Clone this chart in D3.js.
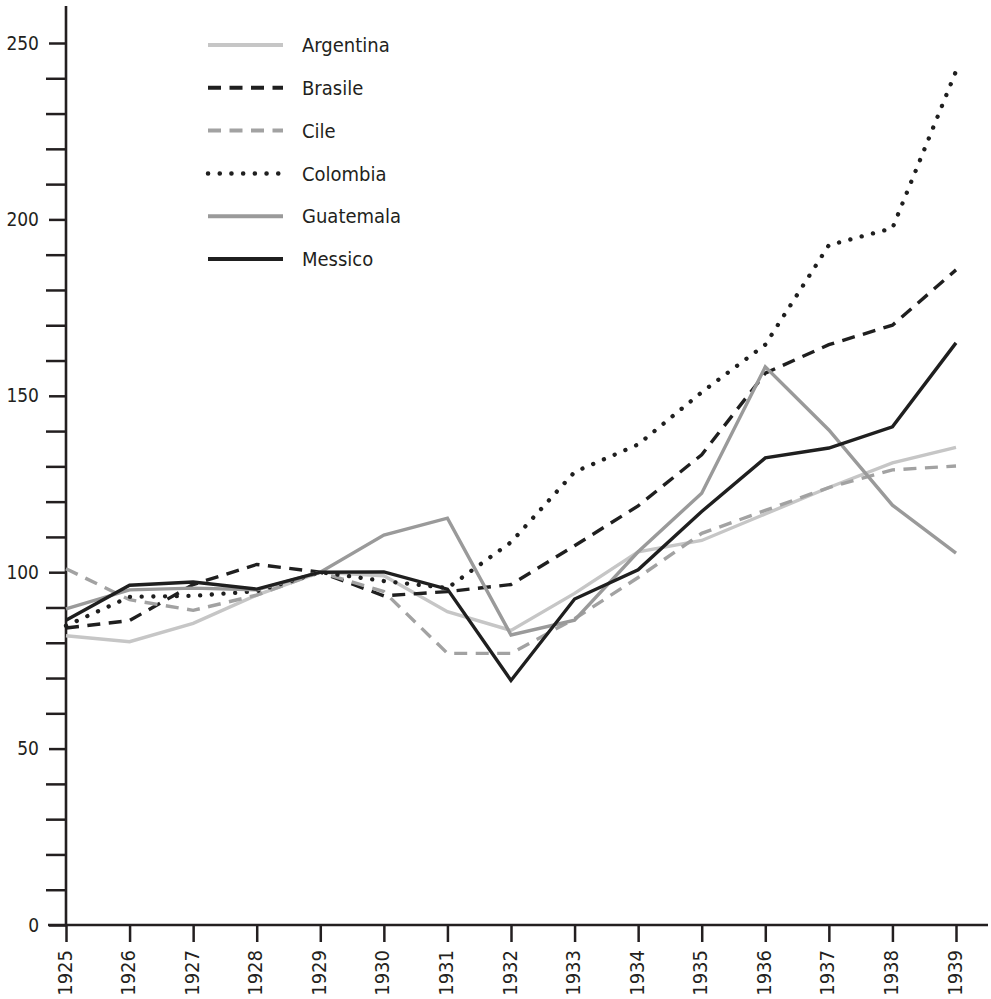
<!DOCTYPE html>
<html>
<head>
<meta charset="utf-8">
<script src="https://cdn.jsdelivr.net/npm/d3@7"></script>
<style>
  html, body { margin: 0; padding: 0; background: #fff; }
  svg text { font-family: "DejaVu Sans Condensed", "DejaVu Sans", sans-serif; font-stretch: condensed; fill: #231f20; }
</style>
</head>
<body>
<svg id="chart" width="991" height="999"></svg>
<script>
const years = ["1925","1926","1927","1928","1929","1930","1931","1932","1933","1934","1935","1936","1937","1938","1939"];
const argentina = [82, 80.3, 85.5, 93.5, 100, 99, 88.8, 83.5, 94, 105.8, 109, 116.5, 124, 131, 135.4];
const brasile   = [84.2, 86.3, 96.5, 102.2, 100, 93.3, 94.5, 96.5, 107.5, 118.8, 133.3, 156.4, 164.5, 170, 185.7];
const cile      = [101, 92.2, 89.2, 93.5, 100, 94.5, 77, 77, 86.8, 98.5, 111, 117.5, 124, 129, 130.1];
const colombia  = [84.8, 93, 93.3, 94.6, 100, 97.5, 95.5, 108.5, 128.4, 136.2, 151, 164.5, 192.7, 197.5, 242];
const guatemala = [89.6, 95, 95.5, 95, 100, 110.5, 115.3, 82.2, 86.4, 105.8, 122.4, 158.2, 140.3, 119, 105.4];
const messico   = [86.4, 96.3, 97.2, 95.2, 100, 100.1, 95.2, 69.3, 92.4, 100.7, 117.2, 132.4, 135.2, 141.2, 165];
const seriesNames = ["Argentina", "Brasile", "Cile", "Colombia", "Guatemala", "Messico"];
const yMajorTicks = [0, 50, 100, 150, 200, 250];
const yMinorTicks = [10,20,30,40,60,70,80,90,110,120,130,140,160,170,180,190,210,220,230,240];

const styles = {
  "Argentina": { color: "#c6c6c6", dash: null, cap: "butt" },
  "Brasile":   { color: "#1f1f1f", dash: "13,8.5", cap: "butt" },
  "Cile":      { color: "#a2a2a2", dash: "13,8.5", cap: "butt" },
  "Colombia":  { color: "#1f1f1f", dash: "0.1,11.6", cap: "round" },
  "Guatemala": { color: "#9a9a9a", dash: null, cap: "butt" },
  "Messico":   { color: "#1f1f1f", dash: null, cap: "butt" }
};
const values = [argentina, brasile, cile, colombia, guatemala, messico];
const series = seriesNames.map((n, i) => ({ name: n, values: values[i] }));

const svg = d3.select("#chart");
const x = d3.scalePoint().domain(years).range([66, 956]);
const y = d3.scaleLinear().domain([0, 250]).range([925, 43]);
const axisColor = "#231f20";

// Y axis minor ticks
const gMinor = svg.append("g").attr("transform", "translate(66,0)")
  .call(d3.axisLeft(y).tickValues(yMinorTicks).tickSize(20).tickFormat(""));
// Y axis major ticks with labels
const gMajor = svg.append("g").attr("transform", "translate(66,0)")
  .call(d3.axisLeft(y).tickValues(yMajorTicks).tickSize(17).tickPadding(10));
[gMinor, gMajor].forEach(g => {
  g.select(".domain").remove();
  g.selectAll(".tick line").attr("stroke", axisColor).attr("stroke-width", 2.5);
  g.selectAll("text").attr("font-size", 19).attr("fill", axisColor)
    .style("font-family", '"DejaVu Sans Condensed", "DejaVu Sans", sans-serif');
});
svg.append("line").attr("x1", 66).attr("x2", 66).attr("y1", y(260.5)).attr("y2", y(0) + 1.2)
  .attr("stroke", axisColor).attr("stroke-width", 2.6);

// X axis
const gx = svg.append("g").attr("transform", "translate(0," + y(0) + ")")
  .call(d3.axisBottom(x).tickSize(17).tickSizeOuter(0));
gx.select(".domain").remove();
gx.selectAll(".tick line").attr("stroke", axisColor).attr("stroke-width", 2.5);
gx.selectAll("text")
  .attr("font-size", 20).attr("fill", axisColor)
  .style("font-family", '"DejaVu Sans Condensed", "DejaVu Sans", sans-serif')
  .attr("transform", "rotate(-90)")
  .attr("text-anchor", "end")
  .attr("x", -25).attr("y", 0).attr("dy", "0.25em");
svg.append("line").attr("x1", 48).attr("x2", 988).attr("y1", y(0)).attr("y2", y(0))
  .attr("stroke", axisColor).attr("stroke-width", 2.6);

// Lines
const line = d3.line().x((d, i) => x(years[i])).y(d => y(d));
svg.append("g").selectAll("path").data(series).join("path")
  .attr("d", d => line(d.values))
  .attr("fill", "none")
  .attr("stroke", d => styles[d.name].color)
  .attr("stroke-width", d => d.name === "Colombia" ? 4.3 : 3.4)
  .attr("stroke-dasharray", d => styles[d.name].dash)
  .attr("stroke-linecap", d => styles[d.name].cap)
  .attr("stroke-linejoin", "miter");

// Legend
const legend = svg.append("g");
const rowY = i => 45 + i * 42.8;
legend.selectAll("line").data(series).join("line")
  .attr("x1", 208).attr("x2", 283)
  .attr("y1", (d, i) => rowY(i)).attr("y2", (d, i) => rowY(i))
  .attr("stroke", d => styles[d.name].color)
  .attr("stroke-width", d => d.name === "Colombia" ? 4.5 : 4)
  .attr("stroke-dasharray", d => styles[d.name].dash)
  .attr("stroke-linecap", d => styles[d.name].cap);
legend.selectAll("text").data(series).join("text")
  .attr("x", 302).attr("y", (d, i) => rowY(i)).attr("dy", "0.36em")
  .attr("font-size", 20)
  .text(d => d.name);
</script>
</body>
</html>
